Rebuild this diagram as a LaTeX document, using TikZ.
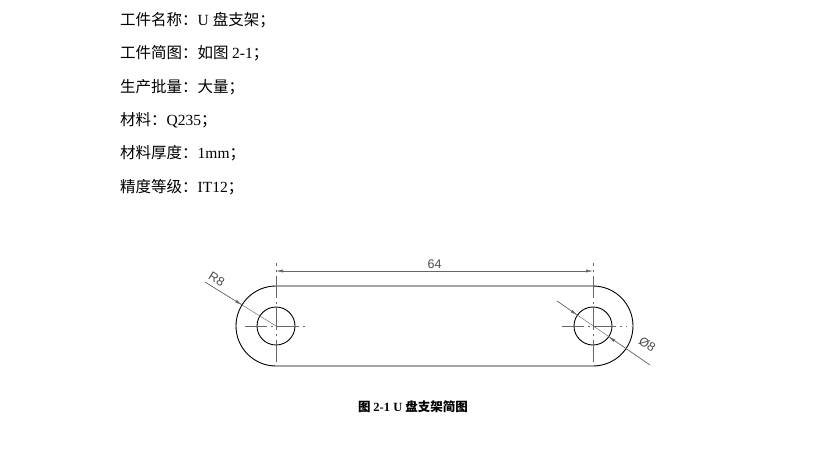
\documentclass[tikz,border=0pt]{standalone}
\usepackage{fontspec}
\setmainfont{Liberation Serif}
\newfontfamily\cjk{Noto Sans CJK SC}
\newfontfamily\dimf{Liberation Sans}
\usetikzlibrary{arrows.meta,calc}
\begin{document}
\begin{tikzpicture}[x=1pt,y=-1pt,
  txt/.style={anchor=west,inner sep=0pt,font=\fontsize{15.5}{16}\selectfont},
  thick line/.style={line width=0.9pt},
  thin line/.style={line width=0.45pt,gray!80!black},
  dimtxt/.style={font=\dimf\fontsize{12.5}{13}\selectfont,text=gray!60!black,inner sep=1pt},
  arr/.style={-{Latex[length=7pt,width=3pt]},line width=0.45pt,gray!80!black}]
\useasboundingbox (0,0) rectangle (814,453);
\node[txt] (t1) at (120,20) {{\cjk 工件名称：}U {\cjk 盘支架；}};
\node[txt] (t2) at (120,53) {{\cjk 工件简图：如图 }2-1{\cjk ；}};
\node[txt] (t3) at (120,87) {{\cjk 生产批量：大量；}};
\node[txt] (t4) at (120,120) {{\cjk 材料：}Q235{\cjk ；}};
\node[txt] (t5) at (120,153) {{\cjk 材料厚度：}1mm{\cjk ；}};
\node[txt] (t6) at (120,187) {{\cjk 精度等级：}IT12{\cjk ；}};
\coordinate (L) at (276,326);
\coordinate (R) at (593,326);
% outline
\draw[thick line] (276,286) -- (593,286) arc[start angle=-90,end angle=90,radius=40] -- (276,366) arc[start angle=90,end angle=270,radius=40] -- cycle;
\draw[thick line] (L) circle[radius=19];
\draw[thick line] (R) circle[radius=19];
% center lines
\draw[thin line,dash pattern=on 22pt off 4pt on 2pt off 4pt] (245,326) -- (309,326);
\draw[thin line,dash pattern=on 22pt off 4pt on 2pt off 4pt] (562,326) -- (627,326);
\draw[thin line,dash pattern=on 22pt off 4pt on 2pt off 4pt] (276,362) -- (276,263);
\draw[thin line,dash pattern=on 22pt off 4pt on 2pt off 4pt] (593,362) -- (593,263);
% dimension 64
\coordinate (d1) at (276,271);
\coordinate (d2) at (593,271);
\draw[arr,{Latex[length=7pt,width=3pt]}-{Latex[length=7pt,width=3pt]}] (d1) -- node[dimtxt,above=1pt] (n64) {64} (d2);
% R8
\coordinate (r0) at (205,282);
\draw[thin line] (r0) -- (L);
\draw[arr] (r0) -- ($(L)!40pt!(r0)$);
\node[dimtxt,rotate=-32,anchor=south west] (nr8) at (206,279) {R8};
% diameter
\coordinate (p0) at (557,301);
\coordinate (p1) at (650,365);
\draw[thin line] (p0) -- (p1);
\draw[arr] (p0) -- ($(R)!19pt!(p0)$);
\draw[arr] (p1) -- ($(R)!19pt!(p1)$);
\node[dimtxt,rotate=-34,anchor=south] (nd8) at (644,349) {Ø8};
\node[font=\bfseries\fontsize{12.5}{13}\selectfont] (cap) at (413,407) {{\cjk 图 }2-1 U {\cjk 盘支架简图}};
\end{tikzpicture}
\end{document}
